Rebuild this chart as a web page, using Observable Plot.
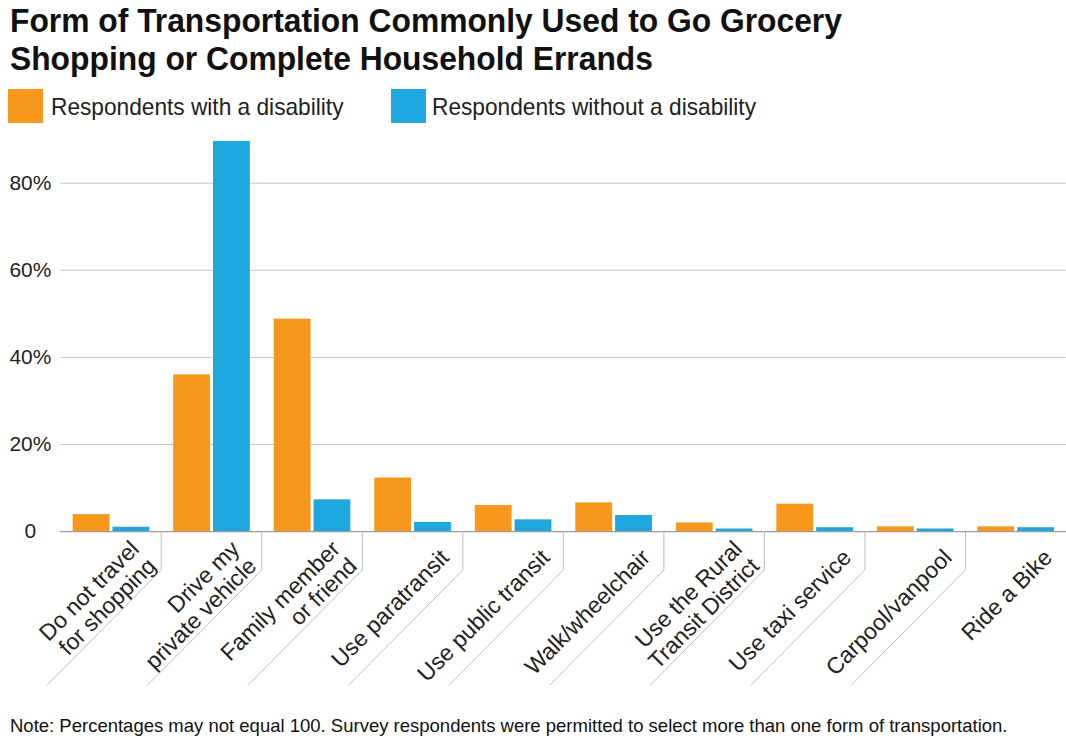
<!DOCTYPE html>
<html>
<head>
<meta charset="utf-8">
<script src="https://cdn.jsdelivr.net/npm/d3@7"></script>
<script src="https://cdn.jsdelivr.net/npm/@observablehq/plot@0.6"></script>
<style>
  html, body { margin: 0; padding: 0; background: #fff; overflow: hidden; width: 1066px; height: 738px; }
  body { position: relative; font-family: "Liberation Sans", Arial, sans-serif; color: #1a1a1a; }
  #title { position: absolute; left: 10px; top: 1px; font-weight: bold; font-size: 34px; line-height: 38px;
           color: #111; transform-origin: 0 0; transform: scaleX(0.935); white-space: nowrap; }
  .sw { position: absolute; top: 89px; width: 35px; height: 34px; }
  .lt { position: absolute; top: 95px; font-size: 24px; line-height: 24px; color: #222; white-space: nowrap;
        transform-origin: 0 0; transform: scaleX(0.945); }
  #chart { position: absolute; left: 0; top: 130px; }
  #note { position: absolute; left: 10px; top: 717px; font-size: 18.5px; line-height: 18px; color: #111; white-space: nowrap; }
</style>
</head>
<body>
<div id="title"></div>
<div id="legend"></div>
<div id="chart"></div>
<div id="note"></div>
<script>
// ---- Data ----
const titleLines = ["Form of Transportation Commonly Used to Go Grocery", "Shopping or Complete Household Errands"];
const seriesNames = ["Respondents with a disability", "Respondents without a disability"];
const seriesColors = ["#F7981D", "#1FA8DF"];
const categories = ["Do not travel for shopping", "Drive my private vehicle", "Family member or friend",
  "Use paratransit", "Use public transit", "Walk/wheelchair", "Use the Rural Transit District",
  "Use taxi service", "Carpool/vanpool", "Ride a Bike"];
const tickLabels = ["Do not travel\nfor shopping", "Drive my\nprivate vehicle", "Family member\nor friend",
  "Use paratransit", "Use public transit", "Walk/wheelchair", "Use the Rural\nTransit District",
  "Use taxi service", "Carpool/vanpool", "Ride a Bike"];
const withDisability    = [3.9, 36.0, 48.8, 12.3, 6.0, 6.6, 2.0, 6.3, 1.1, 1.1];
const withoutDisability = [1.0, 89.6, 7.3, 2.1, 2.7, 3.7, 0.6, 0.9, 0.6, 0.9];
const yTicks = [0, 20, 40, 60, 80];
const gridTicks = [20, 40, 60, 80];
const noteText = "Note: Percentages may not equal 100. Survey respondents were permitted to select more than one form of transportation.";

// ---- Title, legend, note ----
document.getElementById("title").innerHTML = titleLines.join("<br>");
const legend = document.getElementById("legend");
const swX = [8, 391], txX = [51, 432];
seriesNames.forEach((n, i) => {
  const s = document.createElement("div"); s.className = "sw"; s.style.left = swX[i] + "px"; s.style.background = seriesColors[i];
  const t = document.createElement("div"); t.className = "lt"; t.style.left = txX[i] + "px"; t.textContent = n;
  legend.appendChild(s); legend.appendChild(t);
});
document.getElementById("note").textContent = noteText;

// ---- Chart ----
const dataWith = categories.map((c, i) => ({category: c, value: withDisability[i]}));
const dataWithout = categories.map((c, i) => ({category: c, value: withoutDisability[i]}));

const chart = Plot.plot({
  width: 1071,
  height: 573,
  marginTop: 9.25,
  marginBottom: 170,
  marginLeft: 60,
  marginRight: 0,
  style: {fontFamily: "'Liberation Sans', Arial, sans-serif", background: "white", overflow: "visible"},
  x: {domain: categories, padding: 0, axis: null},
  y: {domain: [0, 90], axis: null, label: null},
  marks: [
    Plot.ruleY(gridTicks, {stroke: "#c8c8c8", strokeWidth: 1}),
    Plot.barY(dataWith, {x: "category", y: "value", fill: seriesColors[0], insetLeft: 12, insetRight: 52}),
    Plot.barY(dataWithout, {x: "category", y: "value", fill: seriesColors[1], insetLeft: 52, insetRight: 12}),
    Plot.ruleY([0], {stroke: "#9c9c9c", strokeWidth: 1.2}),
    Plot.axisY({ticks: yTicks, label: null, tickSize: 0, tickPadding: 30, textAnchor: "middle", fontSize: 21, fill: "#222",
                tickFormat: d => d === 0 ? "0" : d + "%"}),
    Plot.text(categories, {x: d => d, text: (d, i) => tickLabels[i], frameAnchor: "bottom", rotate: -45,
                textAnchor: "end", lineAnchor: "middle", dx: 32, dy: 22, fontSize: 23, fill: "#222", lineHeight: 1.05})
  ]
});
document.getElementById("chart").appendChild(chart);

// category divider lines (below baseline), positioned from the plot's own scales
const xs = chart.scale("x"), ys = chart.scale("y");
const y0 = ys.apply(0);
const bw = xs.bandwidth;
const g = d3.select(chart).append("g").attr("fill", "none").attr("stroke", "#bdbdbd").attr("stroke-width", 1);
categories.slice(0, -1).forEach(c => {
  const xb = xs.apply(c) + bw;
  g.append("path").attr("d", `M${xb},${y0}V${y0 + 39}L${xb - 115},${y0 + 155}`);
});
</script>
</body>
</html>
